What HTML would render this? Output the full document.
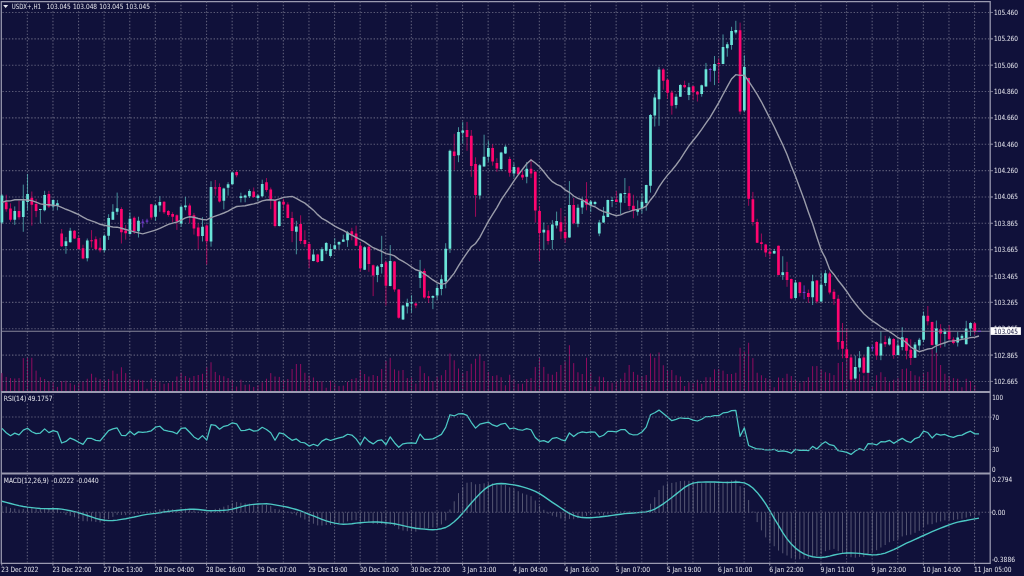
<!DOCTYPE html>
<html><head><meta charset="utf-8"><title>USDX+,H1</title>
<style>
html,body{margin:0;padding:0;background:#10113a;}
body{width:1024px;height:576px;overflow:hidden;}
svg{display:block;}
text{font-family:"DejaVu Sans","Liberation Sans",sans-serif;font-stretch:condensed;font-size:7.2px;fill:#e4e4ec;stroke:none;}
</style></head><body>
<svg width="1024" height="576" viewBox="0 0 1024 576">
<rect x="0" y="0" width="1024" height="576" fill="#10113a"/>
<path d="M1.3 1.5H990.2V563.3H1.3Z" stroke="#9a9ab0" stroke-width="1.25" fill="none"/>
<path d="M1.3 392.1H990.2M1.3 473.6H990.2" stroke="#9a9ab0" stroke-width="2" fill="none"/>
<path d="M990.2 12.47H993M990.2 38.83H993M990.2 65.18H993M990.2 91.54H993M990.2 117.89H993M990.2 144.25H993M990.2 170.61H993M990.2 196.96H993M990.2 223.32H993M990.2 249.67H993M990.2 276.03H993M990.2 302.39H993M990.2 328.74H993M990.2 355.10H993M990.2 381.45H993M990.2 417.20H991.6M990.2 449.60H991.6M990.2 512.30H991.6M1.75 563V565.5M52.95 563V565.5M104.15 563V565.5M155.35 563V565.5M206.55 563V565.5M257.75 563V565.5M308.95 563V565.5M360.15 563V565.5M411.35 563V565.5M462.55 563V565.5M513.75 563V565.5M564.95 563V565.5M616.15 563V565.5M667.35 563V565.5M718.55 563V565.5M769.75 563V565.5M820.95 563V565.5M872.15 563V565.5M923.35 563V565.5M974.55 563V565.5" stroke="#9a9ab0" stroke-width="1" fill="none"/>
<path d="M1.95 373.10V391M6.22 376.90V391M10.48 378.10V391M14.75 378.50V391M19.02 378.10V391M23.28 358.10V391M27.55 357.75V391M31.82 357.75V391M36.08 370.60V391M40.35 377.25V391M44.62 379.00V391M48.88 381.25V391M53.15 381.90V391M57.42 386.90V391M61.68 381.00V391M65.95 380.60V391M70.22 383.10V391M74.48 384.75V391M78.75 382.50V391M83.02 381.00V391M87.28 378.75V391M91.55 373.75V391M95.82 377.50V391M100.08 379.00V391M104.35 380.60V391M108.62 379.00V391M112.88 370.60V391M117.15 373.75V391M121.42 367.25V391M125.68 373.10V391M129.95 378.75V391M134.22 379.75V391M138.48 379.75V391M142.75 380.25V391M147.02 388.75V391M151.28 378.75V391M155.55 381.00V391M159.82 382.25V391M164.08 383.75V391M168.35 383.10V391M172.62 381.25V391M176.88 376.50V391M181.15 372.75V391M185.42 376.00V391M189.68 377.75V391M193.95 376.00V391M198.22 375.00V391M202.48 373.75V391M206.75 366.90V391M211.02 362.25V391M215.28 371.90V391M219.55 375.25V391M223.82 376.25V391M228.09 378.10V391M232.35 379.75V391M236.62 386.50V391M240.89 379.75V391M245.15 384.75V391M249.42 384.40V391M253.69 386.90V391M257.95 385.00V391M262.22 382.25V391M266.49 378.75V391M270.75 373.10V391M275.02 376.50V391M279.29 376.90V391M283.55 380.00V391M287.82 379.00V391M292.09 369.00V391M296.35 364.00V391M300.62 364.00V391M304.89 372.75V391M309.15 375.60V391M313.42 377.50V391M317.69 381.00V391M321.95 381.25V391M326.22 387.75V391M330.49 380.60V391M334.75 383.75V391M339.02 386.00V391M343.29 385.60V391M347.55 381.90V391M351.82 379.00V391M356.09 378.10V391M360.35 370.00V391M364.62 374.00V391M368.89 376.50V391M373.15 375.00V391M377.42 376.00V391M381.69 369.00V391M385.95 361.00V391M390.22 357.75V391M394.49 369.40V391M398.75 370.60V391M403.02 370.00V391M407.29 378.10V391M411.55 377.50V391M415.82 383.50V391M420.09 366.25V391M424.35 373.10V391M428.62 376.25V391M432.89 381.00V391M437.15 376.90V391M441.42 375.25V391M445.69 370.00V391M449.95 353.50V391M454.22 360.25V391M458.49 368.50V391M462.75 372.75V391M467.02 371.00V391M471.29 363.75V391M475.55 358.75V391M479.82 354.00V391M484.09 361.00V391M488.35 371.90V391M492.62 376.00V391M496.89 375.25V391M501.15 377.25V391M505.42 385.25V391M509.69 374.75V391M513.95 379.40V391M518.22 383.75V391M522.49 383.75V391M526.75 379.00V391M531.02 378.10V391M535.29 366.90V391M539.55 357.75V391M543.82 366.90V391M548.09 373.75V391M552.35 374.75V391M556.62 371.90V391M560.89 365.00V391M565.15 361.50V391M569.42 345.25V391M573.69 363.10V391M577.95 372.25V391M582.22 374.00V391M586.49 357.75V391M590.75 372.50V391M595.02 386.50V391M599.29 376.50V391M603.55 377.25V391M607.82 381.50V391M612.09 382.75V391M616.35 381.50V391M620.62 378.75V391M624.89 372.75V391M629.15 365.00V391M633.42 371.90V391M637.69 374.75V391M641.96 376.25V391M646.22 375.00V391M650.49 353.50V391M654.76 357.75V391M659.02 352.50V391M663.29 365.25V391M667.56 370.60V391M671.82 370.00V391M676.09 375.25V391M680.36 376.50V391M684.62 386.00V391M688.89 382.25V391M693.16 383.10V391M697.42 379.75V391M701.69 383.75V391M705.96 377.25V391M710.22 377.25V391M714.49 369.40V391M718.76 369.00V391M723.02 370.60V391M727.29 374.00V391M731.56 374.00V391M735.82 372.75V391M740.09 347.75V391M744.36 351.90V391M748.62 342.75V391M752.89 358.10V391M757.16 372.75V391M761.42 375.25V391M765.69 378.10V391M769.96 379.00V391M774.22 387.25V391M778.49 377.50V391M782.76 378.10V391M787.02 373.75V391M791.29 376.00V391M795.56 379.75V391M799.82 382.75V391M804.09 381.00V391M808.36 377.25V391M812.62 366.25V391M816.89 366.00V391M821.16 369.40V391M825.42 372.25V391M829.69 373.10V391M833.96 375.10V391M838.22 363.00V391M842.49 362.00V391M846.76 360.00V391M851.02 365.00V391M855.29 370.00V391M859.56 374.00V391M863.82 375.50V391M868.09 373.00V391M872.36 386.90V391M876.62 375.25V391M880.89 372.25V391M885.16 376.90V391M889.42 382.25V391M893.69 379.75V391M897.96 378.10V391M902.22 369.00V391M906.49 368.50V391M910.76 371.00V391M915.02 375.25V391M919.29 376.50V391M923.56 372.75V391M927.82 371.90V391M932.09 347.50V391M936.36 352.50V391M940.62 365.00V391M944.89 373.75V391M949.16 376.25V391M953.42 378.10V391M957.69 378.75V391M961.96 387.25V391M966.22 378.75V391M970.49 381.00V391M974.76 385.00V391" stroke="#900c60" stroke-width="1" fill="none"/>
<path d="M27.35 1.65V391M27.35 394V472M27.35 475V563M52.95 1.65V391M52.95 394V472M52.95 475V563M78.55 1.65V391M78.55 394V472M78.55 475V563M104.15 1.65V391M104.15 394V472M104.15 475V563M129.75 1.65V391M129.75 394V472M129.75 475V563M155.35 1.65V391M155.35 394V472M155.35 475V563M180.95 1.65V391M180.95 394V472M180.95 475V563M206.55 1.65V391M206.55 394V472M206.55 475V563M232.15 1.65V391M232.15 394V472M232.15 475V563M257.75 1.65V391M257.75 394V472M257.75 475V563M283.35 1.65V391M283.35 394V472M283.35 475V563M308.95 1.65V391M308.95 394V472M308.95 475V563M334.55 1.65V391M334.55 394V472M334.55 475V563M360.15 1.65V391M360.15 394V472M360.15 475V563M385.75 1.65V391M385.75 394V472M385.75 475V563M411.35 1.65V391M411.35 394V472M411.35 475V563M436.95 1.65V391M436.95 394V472M436.95 475V563M462.55 1.65V391M462.55 394V472M462.55 475V563M488.15 1.65V391M488.15 394V472M488.15 475V563M513.75 1.65V391M513.75 394V472M513.75 475V563M539.35 1.65V391M539.35 394V472M539.35 475V563M564.95 1.65V391M564.95 394V472M564.95 475V563M590.55 1.65V391M590.55 394V472M590.55 475V563M616.15 1.65V391M616.15 394V472M616.15 475V563M641.75 1.65V391M641.75 394V472M641.75 475V563M667.35 1.65V391M667.35 394V472M667.35 475V563M692.95 1.65V391M692.95 394V472M692.95 475V563M718.55 1.65V391M718.55 394V472M718.55 475V563M744.15 1.65V391M744.15 394V472M744.15 475V563M769.75 1.65V391M769.75 394V472M769.75 475V563M795.35 1.65V391M795.35 394V472M795.35 475V563M820.95 1.65V391M820.95 394V472M820.95 475V563M846.55 1.65V391M846.55 394V472M846.55 475V563M872.15 1.65V391M872.15 394V472M872.15 475V563M897.75 1.65V391M897.75 394V472M897.75 475V563M923.35 1.65V391M923.35 394V472M923.35 475V563M948.95 1.65V391M948.95 394V472M948.95 475V563M974.55 1.65V391M974.55 394V472M974.55 475V563M2.4 12.47H993M2.4 38.83H993M2.4 65.18H993M2.4 91.54H993M2.4 117.89H993M2.4 144.25H993M2.4 170.61H993M2.4 196.96H993M2.4 223.32H993M2.4 249.67H993M2.4 276.03H993M2.4 302.39H993M2.4 328.74H993M2.4 355.10H993M2.4 381.45H993" stroke="#5c5c78" stroke-width="1.1" stroke-dasharray="1.4 1.8" fill="none"/>
<path d="M1.95 194.00V224.00M14.75 206.40V224.90M23.28 184.60V231.80M27.55 173.90V210.30M40.35 208.90V223.50M44.62 190.80V211.40M53.15 199.20V210.30M57.42 199.90V210.30M65.95 237.10V253.75M70.22 227.80V242.60M87.28 238.50V261.40M104.35 234.30V252.40M108.62 214.20V239.90M112.88 204.20V220.00M117.15 192.60V214.90M129.95 212.50V234.70M138.48 216.70V237.50M155.55 204.20V220.80M159.82 196.10V211.80M181.15 204.90V226.70M185.42 196.80V210.30M202.48 217.20V241.50M211.02 181.20V246.70M223.82 187.70V209.40M228.09 182.20V195.60M232.35 171.80V184.50M240.89 192.70V202.40M245.15 194.50V202.30M249.42 189.30V198.00M257.95 194.50V200.60M262.22 179.70V197.10M279.29 200.60V226.50M296.35 220.80V254.30M313.42 249.80V261.30M321.95 247.20V261.50M326.22 242.00V254.20M330.49 244.10V257.60M334.75 238.20V249.80M339.02 241.20V249.00M343.29 234.70V242.00M347.55 230.80V246.90M364.62 246.20V270.00M377.42 265.20V282.20M381.69 235.80V273.60M390.22 245.00V286.30M403.02 304.80V320.00M407.29 298.70V313.50M411.55 295.20V312.60M420.09 259.90V288.10M432.89 295.30V309.20M437.15 284.20V300.10M441.42 274.70V295.30M445.69 243.20V288.30M449.95 149.50V252.90M458.49 127.20V162.20M462.75 121.90V143.50M479.82 163.90V199.40M484.09 134.70V166.60M488.35 140.70V161.80M501.15 151.80V170.80M505.42 145.10V154.00M513.95 162.80V177.60M526.75 162.00V183.30M543.82 222.50V249.40M552.35 220.10V249.40M556.62 211.60V228.50M569.42 181.10V237.80M577.95 204.30V227.20M582.22 197.40V214.00M590.75 200.10V212.00M595.02 200.80V205.70M599.29 219.90V236.20M603.55 206.90V222.80M607.82 199.60V217.20M612.09 196.80V207.20M620.62 193.30V214.20M624.89 178.00V203.00M637.69 200.30V215.60M641.96 193.30V213.50M646.22 184.70V210.70M650.49 114.00V192.60M654.76 93.90V126.50M659.02 66.80V125.80M676.09 93.90V108.50M680.36 84.20V96.90M688.89 82.80V100.10M701.69 84.60V96.70M705.96 62.90V86.70M714.49 56.00V85.10M723.02 34.40V64.10M727.29 42.10V56.70M731.56 26.80V49.70M735.82 20.80V34.40M744.36 55.30V112.30M774.22 248.90V253.80M782.76 256.25V279.90M795.56 279.90V299.30M812.62 274.70V305.00M821.16 272.50V302.10M825.42 270.10V286.10M855.29 355.50V379.40M859.56 351.10V371.70M868.09 345.90V373.00M880.89 331.20V360.20M889.42 336.50V345.60M897.96 339.30V355.30M902.22 327.20V350.40M915.02 342.10V358.00M919.29 337.90V350.40M923.56 311.50V342.10M936.36 320.50V352.80M944.89 328.70V346.70M957.69 331.90V346.50M961.96 334.00V338.80M966.22 320.80V344.40M970.49 322.20V336.10" stroke="#6ae4d8" stroke-width="0.8" opacity="0.75" fill="none"/>
<path d="M6.22 194.70V211.70M10.48 203.30V221.70M19.02 200.80V219.70M31.82 191.50V225.60M36.08 198.90V217.20M48.88 190.80V208.20M61.68 229.00V247.00M74.48 230.10V238.90M78.75 235.70V249.60M83.02 244.70V259.30M91.55 230.10V247.50M95.82 236.40V250.00M100.08 237.80V252.40M121.42 207.20V243.50M125.68 225.00V239.60M134.22 216.40V234.00M151.28 203.90V219.70M164.08 201.40V213.90M168.35 210.00V216.70M172.62 212.20V222.20M176.88 214.30V229.90M189.68 203.40V223.30M193.95 212.90V234.60M198.22 223.30V249.30M206.75 224.20V264.50M215.28 180.00V195.60M219.55 183.40V202.50M236.62 171.30V177.30M253.69 187.50V198.00M266.49 178.00V191.90M270.75 187.50V209.20M275.02 199.70V227.40M283.55 198.80V210.10M287.82 202.30V218.20M292.09 211.80V242.20M300.62 215.30V243.90M304.89 230.20V247.20M309.15 242.00V268.00M317.69 253.80V262.80M351.82 227.80V240.30M356.09 225.60V246.00M360.35 242.00V271.50M368.89 245.80V271.80M373.15 264.50V296.10M385.95 260.60V305.60M394.49 261.00V291.80M398.75 289.20V318.70M415.82 303.00V308.20M424.35 268.60V298.75M428.62 290.80V302.90M454.22 133.75V169.90M467.02 121.90V150.80M471.29 130.00V176.80M475.55 157.30V216.80M492.62 144.20V165.70M496.89 158.20V171.80M509.69 156.70V176.70M518.22 166.80V174.50M522.49 170.60V180.00M531.02 158.90V178.00M535.29 171.40V222.70M539.55 206.00V261.10M548.09 225.10V244.60M560.89 208.10V239.00M565.15 216.40V242.50M573.69 198.00V224.40M586.49 182.10V210.30M616.35 191.25V202.20M629.15 186.10V210.00M633.42 194.70V218.30M663.29 68.20V89.70M667.56 78.60V98.75M671.82 90.40V114.70M684.62 80.70V88.30M693.16 85.80V100.10M697.42 91.10V101.50M718.76 58.30V83.00M740.09 22.60V114.50M748.62 77.80V205.80M752.89 191.90V225.70M757.16 218.80V243.00M761.42 233.50V250.00M765.69 243.90V256.90M769.96 248.20V258.70M778.49 245.60V275.30M787.02 261.80V286.80M791.29 278.50V299.30M799.82 281.70V296.50M808.36 289.60V302.80M816.89 279.90V303.50M829.69 271.50V294.40M833.96 289.20V304.80M838.22 294.90V349.70M842.49 323.00V358.30M846.76 328.70V360.20M851.02 354.50V380.30M863.82 355.50V373.60M876.62 341.10V359.90M885.16 335.80V347.00M893.69 337.90V358.75M906.49 337.90V359.40M910.76 339.30V365.00M927.82 306.00V325.40M932.09 321.70V345.60M940.62 324.20V347.80M949.16 325.30V340.30M953.42 337.20V344.40M974.76 322.50V334.70" stroke="#ff056f" stroke-width="0.8" opacity="0.75" fill="none"/>
<path d="M142.75 219.20V227.50M147.02 218.75V222.90M710.22 67.80V81.70M804.09 285.40V299.30M872.36 345.30V351.10" stroke="#7b3fd8" stroke-width="0.8" fill="none"/>
<path d="M0.60 195.50h2.7v27.00h-2.7zM13.40 211.10h2.7v8.60h-2.7zM21.93 200.60h2.7v16.30h-2.7zM26.20 193.90h2.7v8.00h-2.7zM39.00 208.90h2.7v1.10h-2.7zM43.27 195.00h2.7v15.30h-2.7zM51.80 200.00h2.7v6.40h-2.7zM56.07 203.30h2.7v2.50h-2.7zM64.60 241.30h2.7v4.80h-2.7zM68.87 230.80h2.7v11.40h-2.7zM85.93 240.60h2.7v17.70h-2.7zM103.00 235.70h2.7v14.60h-2.7zM107.27 218.10h2.7v17.60h-2.7zM111.53 211.70h2.7v8.00h-2.7zM115.80 208.30h2.7v3.40h-2.7zM128.60 218.75h2.7v15.25h-2.7zM137.13 220.80h2.7v10.45h-2.7zM154.20 205.30h2.7v11.40h-2.7zM158.47 202.10h2.7v3.50h-2.7zM179.80 206.80h2.7v16.70h-2.7zM184.07 205.40h2.7v1.80h-2.7zM201.13 226.80h2.7v9.20h-2.7zM209.67 186.90h2.7v54.60h-2.7zM222.47 188.60h2.7v12.20h-2.7zM226.74 184.30h2.7v3.40h-2.7zM231.00 172.50h2.7v11.80h-2.7zM239.54 196.30h2.7v1.60h-2.7zM243.80 195.40h2.7v2.20h-2.7zM248.07 191.00h2.7v5.20h-2.7zM256.60 195.40h2.7v2.60h-2.7zM260.87 184.10h2.7v12.10h-2.7zM277.94 201.40h2.7v24.60h-2.7zM295.00 226.60h2.7v5.20h-2.7zM312.07 254.50h2.7v6.60h-2.7zM320.60 249.30h2.7v11.80h-2.7zM324.87 242.90h2.7v7.80h-2.7zM329.14 249.00h2.7v6.90h-2.7zM333.40 245.20h2.7v3.80h-2.7zM337.67 242.00h2.7v2.60h-2.7zM341.94 239.40h2.7v2.30h-2.7zM346.20 232.50h2.7v7.80h-2.7zM363.27 247.20h2.7v22.50h-2.7zM376.07 266.60h2.7v8.40h-2.7zM380.34 264.00h2.7v3.00h-2.7zM388.87 261.00h2.7v25.00h-2.7zM401.67 305.60h2.7v13.90h-2.7zM405.94 303.00h2.7v3.50h-2.7zM410.20 302.20h2.7v1.20h-2.7zM418.74 271.40h2.7v6.50h-2.7zM431.54 296.00h2.7v1.80h-2.7zM435.80 288.10h2.7v7.50h-2.7zM440.07 279.30h2.7v9.70h-2.7zM444.34 248.75h2.7v32.65h-2.7zM448.60 150.80h2.7v97.95h-2.7zM457.14 131.90h2.7v23.40h-2.7zM461.40 130.60h2.7v2.20h-2.7zM478.47 165.20h2.7v30.20h-2.7zM482.74 156.80h2.7v9.60h-2.7zM487.00 148.00h2.7v8.70h-2.7zM499.80 152.40h2.7v16.60h-2.7zM504.07 146.80h2.7v6.70h-2.7zM512.60 167.00h2.7v6.40h-2.7zM525.40 168.80h2.7v7.90h-2.7zM542.47 229.80h2.7v2.70h-2.7zM551.00 224.40h2.7v15.60h-2.7zM555.27 221.00h2.7v4.60h-2.7zM568.07 205.00h2.7v32.60h-2.7zM576.60 207.80h2.7v15.95h-2.7zM580.87 200.60h2.7v6.90h-2.7zM589.40 201.50h2.7v3.20h-2.7zM593.67 201.90h2.7v2.00h-2.7zM597.94 222.40h2.7v11.10h-2.7zM602.20 215.80h2.7v6.70h-2.7zM606.47 200.00h2.7v16.90h-2.7zM610.74 200.00h2.7v1.00h-2.7zM619.27 193.60h2.7v8.80h-2.7zM623.54 193.00h2.7v1.00h-2.7zM636.34 209.30h2.7v2.40h-2.7zM640.61 201.70h2.7v6.20h-2.7zM644.87 185.00h2.7v18.00h-2.7zM649.14 115.00h2.7v70.70h-2.7zM653.41 97.40h2.7v18.00h-2.7zM657.67 69.60h2.7v29.60h-2.7zM674.74 96.70h2.7v8.30h-2.7zM679.01 84.90h2.7v11.80h-2.7zM687.54 87.20h2.7v7.80h-2.7zM700.34 85.20h2.7v8.70h-2.7zM704.61 69.20h2.7v17.30h-2.7zM713.14 63.90h2.7v6.90h-2.7zM721.67 46.90h2.7v17.00h-2.7zM725.94 44.20h2.7v4.10h-2.7zM730.21 31.00h2.7v13.90h-2.7zM734.47 30.00h2.7v2.40h-2.7zM743.01 67.10h2.7v43.50h-2.7zM772.87 251.10h2.7v2.40h-2.7zM781.41 272.20h2.7v2.80h-2.7zM794.21 282.60h2.7v15.30h-2.7zM811.27 281.25h2.7v15.95h-2.7zM819.81 284.70h2.7v16.70h-2.7zM824.07 273.30h2.7v9.80h-2.7zM853.94 366.90h2.7v11.50h-2.7zM858.21 358.30h2.7v9.20h-2.7zM866.74 346.90h2.7v25.80h-2.7zM879.54 343.40h2.7v12.10h-2.7zM888.07 338.60h2.7v5.80h-2.7zM896.61 345.60h2.7v9.40h-2.7zM900.87 337.20h2.7v9.70h-2.7zM913.67 344.40h2.7v13.40h-2.7zM917.94 339.70h2.7v5.90h-2.7zM922.21 315.70h2.7v24.00h-2.7zM935.01 328.50h2.7v16.30h-2.7zM943.54 331.30h2.7v2.80h-2.7zM956.34 337.50h2.7v4.90h-2.7zM960.61 335.80h2.7v2.80h-2.7zM964.87 328.50h2.7v15.70h-2.7zM969.14 322.90h2.7v5.60h-2.7z" fill="#6ae4d8"/>
<path d="M4.87 202.20h2.7v7.00h-2.7zM9.13 208.60h2.7v11.10h-2.7zM17.67 211.10h2.7v6.10h-2.7zM30.47 197.80h2.7v6.90h-2.7zM34.73 204.00h2.7v7.00h-2.7zM47.53 193.90h2.7v12.50h-2.7zM60.33 233.40h2.7v12.80h-2.7zM73.13 230.80h2.7v7.70h-2.7zM77.40 238.00h2.7v10.90h-2.7zM81.67 248.20h2.7v10.40h-2.7zM90.20 240.30h2.7v1.00h-2.7zM94.47 239.20h2.7v9.70h-2.7zM98.73 247.80h2.7v2.50h-2.7zM120.07 208.90h2.7v23.40h-2.7zM124.33 230.60h2.7v2.70h-2.7zM132.87 217.80h2.7v13.45h-2.7zM149.93 204.20h2.7v13.20h-2.7zM162.73 201.80h2.7v10.40h-2.7zM167.00 211.10h2.7v3.90h-2.7zM171.27 213.90h2.7v2.80h-2.7zM175.53 215.30h2.7v6.20h-2.7zM188.33 205.40h2.7v10.10h-2.7zM192.60 215.20h2.7v13.30h-2.7zM196.87 227.60h2.7v8.70h-2.7zM205.40 225.60h2.7v15.60h-2.7zM213.94 187.40h2.7v1.20h-2.7zM218.20 186.90h2.7v14.70h-2.7zM235.27 172.10h2.7v3.20h-2.7zM252.34 191.40h2.7v5.70h-2.7zM265.14 182.30h2.7v7.80h-2.7zM269.40 189.60h2.7v9.70h-2.7zM273.67 200.60h2.7v25.40h-2.7zM282.20 201.80h2.7v2.70h-2.7zM286.47 204.50h2.7v13.40h-2.7zM290.74 217.90h2.7v13.00h-2.7zM299.27 224.00h2.7v17.00h-2.7zM303.54 240.00h2.7v4.10h-2.7zM307.80 244.10h2.7v15.30h-2.7zM316.34 254.50h2.7v7.50h-2.7zM350.47 231.30h2.7v3.40h-2.7zM354.74 233.40h2.7v12.40h-2.7zM359.00 245.80h2.7v22.40h-2.7zM367.54 246.70h2.7v17.30h-2.7zM371.80 265.20h2.7v10.40h-2.7zM384.60 262.30h2.7v23.40h-2.7zM393.14 261.40h2.7v28.10h-2.7zM397.40 289.50h2.7v28.30h-2.7zM414.47 303.40h2.7v2.20h-2.7zM423.00 271.00h2.7v26.40h-2.7zM427.27 296.00h2.7v2.00h-2.7zM452.87 151.40h2.7v4.60h-2.7zM465.67 130.00h2.7v6.90h-2.7zM469.94 135.80h2.7v30.30h-2.7zM474.20 164.00h2.7v31.10h-2.7zM491.27 148.00h2.7v13.60h-2.7zM495.54 162.90h2.7v5.50h-2.7zM508.34 158.90h2.7v13.90h-2.7zM516.87 167.40h2.7v6.80h-2.7zM521.14 174.70h2.7v2.70h-2.7zM529.67 168.80h2.7v4.70h-2.7zM533.94 171.80h2.7v38.60h-2.7zM538.20 211.00h2.7v22.00h-2.7zM546.74 230.20h2.7v10.90h-2.7zM559.54 222.20h2.7v9.20h-2.7zM563.80 232.10h2.7v6.20h-2.7zM572.34 205.00h2.7v18.30h-2.7zM585.14 199.20h2.7v5.50h-2.7zM615.00 199.60h2.7v2.30h-2.7zM627.80 193.30h2.7v12.80h-2.7zM632.07 205.80h2.7v4.90h-2.7zM661.94 69.60h2.7v11.10h-2.7zM666.21 79.70h2.7v13.10h-2.7zM670.47 92.50h2.7v13.20h-2.7zM683.27 84.90h2.7v2.30h-2.7zM691.81 86.25h2.7v5.95h-2.7zM696.07 91.80h2.7v2.80h-2.7zM717.41 62.90h2.7v1.00h-2.7zM738.74 30.30h2.7v81.10h-2.7zM747.27 78.10h2.7v120.70h-2.7zM751.54 199.30h2.7v22.60h-2.7zM755.81 221.90h2.7v20.80h-2.7zM760.07 242.20h2.7v1.70h-2.7zM764.34 244.40h2.7v8.20h-2.7zM768.61 251.70h2.7v2.10h-2.7zM777.14 245.80h2.7v29.20h-2.7zM785.67 271.90h2.7v8.00h-2.7zM789.94 278.90h2.7v19.70h-2.7zM798.47 282.20h2.7v10.90h-2.7zM807.01 293.10h2.7v3.80h-2.7zM815.54 280.60h2.7v20.80h-2.7zM828.34 273.60h2.7v19.00h-2.7zM832.61 291.80h2.7v7.30h-2.7zM836.87 298.70h2.7v43.40h-2.7zM841.14 341.10h2.7v7.70h-2.7zM845.41 349.20h2.7v8.75h-2.7zM849.67 357.40h2.7v22.00h-2.7zM862.47 357.40h2.7v15.30h-2.7zM875.27 342.10h2.7v13.40h-2.7zM883.81 342.10h2.7v2.10h-2.7zM892.34 338.90h2.7v16.10h-2.7zM905.14 338.30h2.7v12.50h-2.7zM909.41 349.70h2.7v8.30h-2.7zM926.47 315.70h2.7v5.55h-2.7zM930.74 321.90h2.7v23.10h-2.7zM939.27 329.20h2.7v4.40h-2.7zM947.81 330.80h2.7v8.40h-2.7zM952.07 339.60h2.7v3.40h-2.7zM973.41 323.30h2.7v7.95h-2.7z" fill="#ff056f"/>
<path d="M141.40 222.20H144.10M145.67 221.10H148.37M708.87 69.50H711.57M802.74 292.40H805.44M871.01 347.80H873.71" stroke="#7b3fd8" stroke-width="1" fill="none"/>
<polyline points="1.95,202.42 6.22,201.01 10.48,200.84 14.75,199.70 19.02,199.70 23.28,199.77 27.55,200.02 31.82,200.66 36.08,202.18 40.35,203.91 44.62,204.49 48.88,204.77 53.15,205.25 57.42,205.57 61.68,207.48 65.95,209.28 70.22,210.87 74.48,212.75 78.75,214.72 83.02,217.04 87.28,219.30 91.55,220.89 95.82,222.34 100.08,224.30 104.35,225.23 108.62,226.11 112.88,227.00 117.15,227.18 121.42,228.24 125.68,229.46 129.95,230.65 134.22,231.89 138.48,232.93 142.75,233.88 147.02,232.62 151.28,231.43 155.55,230.15 159.82,228.33 164.08,226.49 168.35,224.31 172.62,223.12 176.88,222.14 181.15,220.04 185.42,217.79 189.68,216.78 193.95,217.31 198.22,218.53 202.48,219.46 206.75,219.90 211.02,217.58 215.28,216.08 219.55,214.60 223.82,212.98 228.09,211.09 232.35,208.66 236.62,206.55 240.89,206.11 245.15,205.77 249.42,204.71 253.69,203.81 257.95,202.75 262.22,200.88 266.49,200.04 270.75,199.74 275.02,200.27 279.29,198.91 283.55,197.32 287.82,196.88 292.09,196.36 296.35,198.34 300.62,200.97 304.89,203.09 309.15,206.63 313.42,210.14 317.69,214.62 321.95,218.31 326.22,220.64 330.49,223.32 334.75,226.03 339.02,228.28 343.29,230.48 347.55,232.90 351.82,235.13 356.09,237.46 360.35,239.56 364.62,241.85 368.89,244.83 373.15,247.72 377.42,249.50 381.69,251.37 385.95,253.61 390.22,254.45 394.49,255.95 398.75,259.12 403.02,261.30 407.29,263.99 411.55,266.95 415.82,269.78 420.09,271.09 424.35,273.86 428.62,276.79 432.89,279.96 437.15,282.63 441.42,284.31 445.69,283.34 449.95,278.52 454.22,273.12 458.49,265.93 462.75,259.13 467.02,252.78 471.29,246.80 475.55,243.50 479.82,237.29 484.09,229.24 488.35,221.36 492.62,214.29 496.89,207.60 501.15,199.94 505.42,193.71 509.69,187.48 513.95,180.93 518.22,174.84 522.49,169.30 526.75,163.78 531.02,160.01 535.29,163.00 539.55,166.84 543.82,171.74 548.09,177.27 552.35,181.64 556.62,184.39 560.89,186.20 565.15,189.86 569.42,192.27 573.69,196.03 577.95,198.34 582.22,199.95 586.49,202.57 590.75,205.30 595.02,206.76 599.29,209.53 603.55,211.61 607.82,212.74 612.09,214.29 616.35,215.71 620.62,214.88 624.89,212.88 629.15,211.69 633.42,210.17 637.69,209.41 641.96,208.45 646.22,206.13 650.49,199.97 654.76,194.59 659.02,186.90 663.29,180.54 667.56,175.16 671.82,170.20 676.09,164.96 680.36,159.12 684.62,152.35 688.89,145.92 693.16,140.53 697.42,135.26 701.69,129.43 705.96,123.21 710.22,117.03 714.49,109.92 718.76,102.59 723.02,94.47 727.29,86.59 731.56,78.89 735.82,74.64 740.09,75.34 744.36,75.22 748.62,81.12 752.89,87.58 757.16,94.42 761.42,101.79 765.69,110.17 769.96,118.50 774.22,126.70 778.49,135.83 782.76,144.71 787.02,154.45 791.29,165.92 795.56,176.57 799.82,188.03 804.09,199.46 808.36,211.96 812.62,223.81 816.89,237.33 821.16,250.07 825.42,258.16 829.69,269.44 833.96,274.45 838.22,280.46 842.49,285.77 846.76,291.47 851.02,297.81 855.29,303.46 859.56,308.82 863.82,313.71 868.09,317.44 872.36,320.84 876.62,323.69 880.89,326.73 885.16,329.28 889.42,331.59 893.69,334.50 897.96,337.71 902.22,339.50 906.49,342.81 910.76,347.04 915.02,349.63 919.29,351.66 923.56,350.34 927.82,348.96 932.09,348.32 936.36,345.77 940.62,344.11 944.89,342.76 949.16,341.08 953.42,340.89 957.69,340.37 961.96,339.39 966.22,338.64 970.49,337.58 974.76,337.21 979.02,336.02" stroke="#9a9caa" stroke-width="1.4" fill="none"/>
<path d="M2 331.25H990.2" stroke="#8c8c9e" stroke-width="0.95" fill="none"/>
<path d="M977.6 331.25H981" stroke="#7b3fd8" stroke-width="1" fill="none"/>
<polyline points="1.95,428.38 6.22,432.71 10.48,435.72 14.75,433.11 19.02,434.91 23.28,430.07 27.55,428.29 31.82,431.76 36.08,433.68 40.35,433.02 44.62,428.86 48.88,432.61 53.15,430.69 57.42,431.81 61.68,443.02 65.95,441.42 70.22,438.09 74.48,439.92 78.75,442.27 83.02,444.33 87.28,438.38 91.55,438.48 95.82,440.43 100.08,440.78 104.35,435.74 108.62,430.58 112.88,428.88 117.15,427.97 121.42,435.30 125.68,435.57 129.95,431.27 134.22,434.88 138.48,431.88 142.75,432.31 147.02,431.97 151.28,430.80 155.55,427.16 159.82,426.25 164.08,430.17 168.35,431.22 172.62,431.88 176.88,433.76 181.15,428.46 185.42,427.99 189.68,432.22 193.95,436.93 198.22,439.45 202.48,435.61 206.75,440.13 211.02,424.73 215.28,425.26 219.55,429.23 223.82,426.27 228.09,425.33 232.35,422.83 236.62,423.81 240.89,430.52 245.15,430.29 249.42,429.10 253.69,431.11 257.95,430.60 262.22,427.31 266.49,429.51 270.75,432.71 275.02,440.30 279.29,432.93 283.55,433.77 287.82,437.27 292.09,440.33 296.35,438.95 300.62,442.25 304.89,442.93 309.15,446.09 313.42,444.27 317.69,445.84 321.95,441.14 326.22,438.92 330.49,440.49 334.75,439.09 339.02,437.89 343.29,436.89 347.55,434.26 351.82,435.05 356.09,438.86 360.35,445.00 364.62,437.12 368.89,441.34 373.15,443.90 377.42,440.73 381.69,439.83 385.95,444.76 390.22,436.90 394.49,442.73 398.75,447.23 403.02,443.80 407.29,443.07 411.55,442.83 415.82,443.49 420.09,434.06 424.35,439.31 428.62,439.42 432.89,438.88 437.15,436.71 441.42,434.36 445.69,427.42 449.95,414.74 454.22,415.95 458.49,413.79 462.75,413.68 467.02,415.31 471.29,422.29 475.55,428.13 479.82,424.17 484.09,423.14 488.35,422.05 492.62,424.95 496.89,426.38 501.15,424.05 505.42,423.26 509.69,428.94 513.95,427.99 518.22,429.54 522.49,430.25 526.75,428.59 531.02,429.74 535.29,437.53 539.55,441.32 543.82,440.56 548.09,442.43 552.35,438.34 556.62,437.53 560.89,439.53 565.15,440.83 569.42,432.91 573.69,436.54 577.95,433.26 582.22,431.79 586.49,432.70 590.75,431.99 595.02,432.09 599.29,436.97 603.55,435.24 607.82,431.35 612.09,431.35 616.35,431.89 620.62,429.70 624.89,429.54 629.15,433.63 633.42,434.99 637.69,434.53 641.96,432.01 646.22,427.10 650.49,414.70 654.76,412.74 659.02,410.10 663.29,413.50 667.56,417.07 671.82,420.67 676.09,419.39 680.36,417.78 684.62,418.48 688.89,418.48 693.16,420.17 697.42,421.01 701.69,419.26 705.96,416.56 710.22,416.68 714.49,415.73 718.76,415.73 723.02,412.91 727.29,412.49 731.56,410.56 735.82,410.42 740.09,436.32 744.36,427.88 748.62,445.45 752.89,447.36 757.16,448.99 761.42,449.08 765.69,449.79 769.96,449.90 774.22,449.31 778.49,451.49 782.76,450.84 787.02,451.57 791.29,453.28 795.56,449.28 799.82,450.37 804.09,450.19 808.36,450.70 812.62,446.36 816.89,448.94 821.16,444.59 825.42,441.79 829.69,444.66 833.96,445.57 838.22,450.75 842.49,451.43 846.76,452.37 851.02,454.43 855.29,450.93 859.56,448.58 863.82,450.29 868.09,443.63 872.36,443.76 876.62,444.91 880.89,441.73 885.16,441.87 889.42,440.32 893.69,443.35 897.96,440.67 902.22,438.34 906.49,441.11 910.76,442.50 915.02,438.53 919.29,437.21 923.56,431.13 927.82,432.53 932.09,437.97 936.36,433.91 940.62,435.07 944.89,434.48 949.16,436.40 953.42,437.32 957.69,435.67 961.96,435.15 966.22,432.88 970.49,431.18 974.76,433.89 979.02,433.89" stroke="#4cc8c4" stroke-width="1.25" fill="none" stroke-linejoin="round"/>
<path d="M1.95 512.40V505.96M6.22 512.40V506.65M10.48 512.40V508.08M14.75 512.40V508.58M19.02 512.40V509.49M23.28 512.40V508.93M27.55 512.40V508.00M31.82 512.40V508.17M36.08 512.40V508.85M40.35 512.40V509.26M44.62 512.40V508.52M48.88 512.40V508.88M53.15 512.40V508.70M57.42 512.40V508.86M61.68 512.40V512.42M65.95 512.40V514.83M70.22 512.40V515.85M74.48 512.40V517.22M78.75 512.40V519.06M83.02 512.40V521.20M87.28 512.40V521.34M91.55 512.40V521.39M95.82 512.40V521.95M100.08 512.40V522.39M104.35 512.40V521.46M108.62 512.40V519.24M112.88 512.40V516.92M117.15 512.40V514.78M121.42 512.40V514.97M125.68 512.40V515.18M129.95 512.40V514.15M134.22 512.40V514.32M138.48 512.40V513.60M142.75 512.40V513.13M147.02 512.40V512.67M151.28 512.40V512.02M155.55 512.40V510.55M159.82 512.40V509.17M164.08 512.40V508.92M168.35 512.40V508.99M172.62 512.40V509.22M176.88 512.40V509.81M181.15 512.40V509.14M185.42 512.40V508.55M189.68 512.40V508.92M193.95 512.40V510.28M198.22 512.40V511.99M202.48 512.40V512.58M206.75 512.40V514.18M211.02 512.40V511.12M215.28 512.40V508.87M219.55 512.40V508.18M223.82 512.40V506.65M228.09 512.40V505.18M232.35 512.40V503.18M236.62 512.40V501.94M240.89 512.40V502.75M245.15 512.40V503.42M249.42 512.40V503.70M253.69 512.40V504.50M257.95 512.40V505.08M262.22 512.40V504.73M266.49 512.40V505.02M270.75 512.40V506.05M275.02 512.40V509.05M279.29 512.40V509.49M283.55 512.40V510.11M287.82 512.40V511.68M292.09 512.40V513.95M296.35 512.40V515.37M300.62 512.40V517.59M304.89 512.40V519.51M309.15 512.40V522.15M313.42 512.40V523.72M317.69 512.40V525.41M321.95 512.40V525.58M326.22 512.40V525.06M330.49 512.40V524.99M334.75 512.40V524.49M339.02 512.40V523.71M343.29 512.40V522.76M347.55 512.40V521.36M351.82 512.40V520.33M356.09 512.40V520.31M360.35 512.40V521.97M364.62 512.40V521.51M368.89 512.40V522.37M373.15 512.40V523.85M377.42 512.40V524.17M381.69 512.40V524.07M385.95 512.40V525.58M390.22 512.40V524.66M394.49 512.40V526.06M398.75 512.40V529.23M403.02 512.40V530.56M407.29 512.40V531.19M411.55 512.40V531.41M415.82 512.40V531.63M420.09 512.40V528.88M424.35 512.40V528.59M428.62 512.40V528.23M432.89 512.40V527.61M437.15 512.40V526.32M441.42 512.40V524.46M445.69 512.40V520.45M449.95 512.40V509.47M454.22 512.40V501.31M458.49 512.40V493.14M462.75 512.40V486.85M467.02 512.40V482.71M471.29 512.40V482.12M475.55 512.40V484.30M479.82 512.40V483.96M484.09 512.40V483.35M488.35 512.40V482.51M492.62 512.40V483.27M496.89 512.40V484.73M501.15 512.40V484.93M505.42 512.40V484.95M509.69 512.40V487.34M513.95 512.40V489.04M518.22 512.40V491.20M522.49 512.40V493.39M526.75 512.40V494.65M531.02 512.40V496.20M535.29 512.40V500.52M539.55 512.40V505.83M543.82 512.40V509.82M548.09 512.40V513.86M552.35 512.40V515.69M556.62 512.40V516.81M560.89 512.40V518.47M565.15 512.40V520.24M569.42 512.40V518.91M573.69 512.40V519.24M577.95 512.40V518.19M582.22 512.40V516.74M586.49 512.40V515.87M590.75 512.40V514.90M595.02 512.40V514.14M599.29 512.40V515.15M603.55 512.40V515.39M607.82 512.40V514.29M612.09 512.40V513.41M616.35 512.40V512.85M620.62 512.40V511.76M624.89 512.40V510.86M629.15 512.40V511.21M633.42 512.40V511.86M637.69 512.40V512.27M641.96 512.40V511.99M646.22 512.40V510.45M650.49 512.40V503.73M654.76 512.40V497.18M659.02 512.40V490.02M663.29 512.40V485.54M667.56 512.40V483.29M671.82 512.40V482.88M676.09 512.40V482.19M680.36 512.40V481.06M684.62 512.40V480.71M688.89 512.40V480.80M693.16 512.40V481.62M697.42 512.40V482.81M701.69 512.40V483.33M705.96 512.40V482.81M710.22 512.40V482.76M714.49 512.40V482.61M718.76 512.40V482.84M723.02 512.40V482.01M727.29 512.40V481.49M731.56 512.40V480.39M735.82 512.40V479.82M740.09 512.40V486.18M744.36 512.40V487.96M748.62 512.40V500.04M752.89 512.40V511.48M757.16 512.40V522.10M761.42 512.40V530.40M765.69 512.40V537.39M769.96 512.40V542.67M774.22 512.40V546.26M778.49 512.40V550.57M782.76 512.40V553.29M787.02 512.40V555.56M791.29 512.40V558.33M795.56 512.40V558.71M799.82 512.40V559.31M804.09 512.40V559.20M808.36 512.40V558.92M812.62 512.40V556.94M816.89 512.40V556.48M821.16 512.40V554.29M825.42 512.40V551.20M829.69 512.40V549.86M833.96 512.40V548.90M838.22 512.40V551.13M842.49 512.40V552.97M846.76 512.40V554.67M851.02 512.40V557.21M855.29 512.40V557.71M859.56 512.40V556.90M863.82 512.40V556.90M868.09 512.40V554.35M872.36 512.40V551.95M876.62 512.40V550.22M880.89 512.40V547.48M885.16 512.40V545.00M889.42 512.40V542.24M893.69 512.40V541.04M897.96 512.40V539.02M902.22 512.40V536.48M906.49 512.40V535.28M910.76 512.40V534.66M915.02 512.40V532.84M919.29 512.40V530.81M923.56 512.40V527.11M927.82 512.40V524.48M932.09 512.40V524.16M936.36 512.40V522.48M940.62 512.40V521.44M944.89 512.40V520.35M949.16 512.40V520.03M953.42 512.40V519.99M957.69 512.40V519.43M961.96 512.40V518.79M966.22 512.40V517.63M970.49 512.40V516.22M974.76 512.40V515.73M979.02 512.40V515.31" stroke="#6c6e86" stroke-width="0.75" fill="none"/>
<polyline points="1.95,501.28 6.22,502.39 10.48,503.54 14.75,504.61 19.02,505.65 23.28,506.50 27.55,507.12 31.82,507.63 36.08,508.08 40.35,508.45 44.62,508.65 48.88,508.74 53.15,508.76 57.42,508.69 61.68,509.08 65.95,509.83 70.22,510.69 74.48,511.62 78.75,512.71 83.02,514.11 87.28,515.50 91.55,516.91 95.82,518.36 100.08,519.47 104.35,520.21 108.62,520.58 112.88,520.55 117.15,520.08 121.42,519.38 125.68,518.70 129.95,517.89 134.22,517.05 138.48,516.07 142.75,515.14 147.02,514.41 151.28,513.87 155.55,513.40 159.82,512.75 164.08,512.06 168.35,511.49 172.62,510.92 176.88,510.50 181.15,510.06 185.42,509.60 189.68,509.25 193.95,509.22 198.22,509.54 202.48,509.94 206.75,510.52 211.02,510.73 215.28,510.63 219.55,510.52 223.82,510.31 228.09,509.89 232.35,509.10 236.62,507.99 240.89,506.90 245.15,505.70 249.42,504.88 253.69,504.39 257.95,504.05 262.22,503.83 266.49,503.81 270.75,504.13 275.02,504.92 279.29,505.67 283.55,506.41 287.82,507.30 292.09,508.35 296.35,509.49 300.62,510.92 304.89,512.53 309.15,514.32 313.42,515.95 317.69,517.72 321.95,519.44 326.22,520.93 330.49,522.15 334.75,523.17 339.02,523.85 343.29,524.21 347.55,524.12 351.82,523.74 356.09,523.17 360.35,522.77 364.62,522.38 368.89,522.09 373.15,522.02 377.42,522.07 381.69,522.21 385.95,522.68 390.22,523.17 394.49,523.81 398.75,524.61 403.02,525.62 407.29,526.60 411.55,527.44 415.82,528.27 420.09,528.80 424.35,529.14 428.62,529.53 432.89,529.70 437.15,529.38 441.42,528.70 445.69,527.51 449.95,525.07 454.22,521.70 458.49,517.73 462.75,513.09 467.02,508.04 471.29,502.98 475.55,498.31 479.82,493.81 484.09,489.69 488.35,486.69 492.62,484.69 496.89,483.75 501.15,483.54 505.42,483.79 509.69,484.37 513.95,484.89 518.22,485.70 522.49,486.82 526.75,488.16 531.02,489.60 535.29,491.36 539.55,493.68 543.82,496.44 548.09,499.39 552.35,502.35 556.62,505.20 560.89,507.98 565.15,510.83 569.42,513.35 573.69,515.43 577.95,516.80 582.22,517.57 586.49,517.80 590.75,517.71 595.02,517.41 599.29,517.04 603.55,516.50 607.82,515.99 612.09,515.34 616.35,514.75 620.62,514.20 624.89,513.64 629.15,513.23 633.42,512.98 637.69,512.66 641.96,512.28 646.22,511.85 650.49,510.78 654.76,509.04 659.02,506.62 663.29,503.81 667.56,500.70 671.82,497.48 676.09,494.14 680.36,490.70 684.62,487.40 688.89,484.85 693.16,483.12 697.42,482.32 701.69,482.08 705.96,482.02 710.22,482.01 714.49,482.05 718.76,482.25 723.02,482.40 727.29,482.47 731.56,482.34 735.82,482.01 740.09,482.32 744.36,482.90 748.62,484.82 752.89,488.02 757.16,492.39 761.42,497.76 765.69,503.97 769.96,510.89 774.22,518.28 778.49,525.43 782.76,532.69 787.02,538.86 791.29,544.06 795.56,548.13 799.82,551.34 804.09,553.77 808.36,555.57 812.62,556.76 816.89,557.42 821.16,557.53 825.42,557.04 829.69,556.10 833.96,555.01 838.22,554.10 842.49,553.41 846.76,552.94 851.02,552.97 855.29,553.10 859.56,553.39 863.82,554.03 868.09,554.53 872.36,554.87 876.62,554.76 880.89,554.16 885.16,553.08 889.42,551.42 893.69,549.57 897.96,547.58 902.22,545.31 906.49,543.19 910.76,541.27 915.02,539.34 919.29,537.49 923.56,535.50 927.82,533.52 932.09,531.65 936.36,529.81 940.62,528.14 944.89,526.48 949.16,524.86 953.42,523.43 957.69,522.16 961.96,521.24 966.22,520.48 970.49,519.59 974.76,518.84 979.02,518.16" stroke="#4cc8c4" stroke-width="1.4" fill="none" stroke-linejoin="round"/>
<path d="M2.4 417.00H991.6M2.4 449.50H991.6M2.4 512.30H991.6" stroke="#5c5c78" stroke-width="1.1" stroke-dasharray="1.4 1.8" fill="none"/>
<text x="994.00" y="14.97" textLength="24.00" lengthAdjust="spacingAndGlyphs">105.460</text>
<text x="994.00" y="41.33" textLength="24.00" lengthAdjust="spacingAndGlyphs">105.260</text>
<text x="994.00" y="67.68" textLength="24.00" lengthAdjust="spacingAndGlyphs">105.060</text>
<text x="994.00" y="94.04" textLength="24.00" lengthAdjust="spacingAndGlyphs">104.860</text>
<text x="994.00" y="120.39" textLength="24.00" lengthAdjust="spacingAndGlyphs">104.660</text>
<text x="994.00" y="146.75" textLength="24.00" lengthAdjust="spacingAndGlyphs">104.460</text>
<text x="994.00" y="173.11" textLength="24.00" lengthAdjust="spacingAndGlyphs">104.260</text>
<text x="994.00" y="199.46" textLength="24.00" lengthAdjust="spacingAndGlyphs">104.065</text>
<text x="994.00" y="225.82" textLength="24.00" lengthAdjust="spacingAndGlyphs">103.865</text>
<text x="994.00" y="252.17" textLength="24.00" lengthAdjust="spacingAndGlyphs">103.665</text>
<text x="994.00" y="278.53" textLength="24.00" lengthAdjust="spacingAndGlyphs">103.465</text>
<text x="994.00" y="304.89" textLength="24.00" lengthAdjust="spacingAndGlyphs">103.265</text>
<text x="994.00" y="331.24" textLength="24.00" lengthAdjust="spacingAndGlyphs">103.065</text>
<text x="994.00" y="357.60" textLength="24.00" lengthAdjust="spacingAndGlyphs">102.865</text>
<text x="994.00" y="383.95" textLength="24.00" lengthAdjust="spacingAndGlyphs">102.665</text>
<rect x="990.6" y="327.2" width="30.3" height="7.7" fill="#ffffff"/>
<text x="994.00" y="333.75" textLength="24.00" lengthAdjust="spacingAndGlyphs" style="fill:#10113a">103.045</text>
<text x="992.30" y="400.20" textLength="10.70" lengthAdjust="spacingAndGlyphs">100</text>
<text x="991.90" y="420.20" textLength="7.00" lengthAdjust="spacingAndGlyphs">70</text>
<text x="991.90" y="452.15" textLength="7.00" lengthAdjust="spacingAndGlyphs">30</text>
<text x="991.90" y="471.90" textLength="3.60" lengthAdjust="spacingAndGlyphs">0</text>
<text x="992.00" y="481.80" textLength="20.20" lengthAdjust="spacingAndGlyphs">0.2794</text>
<text x="991.90" y="514.80" textLength="13.40" lengthAdjust="spacingAndGlyphs">0.00</text>
<text x="991.90" y="561.70" textLength="23.10" lengthAdjust="spacingAndGlyphs">-0.3886</text>
<text x="1.20" y="571.90" textLength="37.36" lengthAdjust="spacingAndGlyphs">23 Dec 2022</text>
<text x="52.40" y="571.90" textLength="39.19" lengthAdjust="spacingAndGlyphs">23 Dec 22:00</text>
<text x="103.60" y="571.90" textLength="39.19" lengthAdjust="spacingAndGlyphs">27 Dec 13:00</text>
<text x="154.80" y="571.90" textLength="39.19" lengthAdjust="spacingAndGlyphs">28 Dec 04:00</text>
<text x="206.00" y="571.90" textLength="39.19" lengthAdjust="spacingAndGlyphs">28 Dec 16:00</text>
<text x="257.20" y="571.90" textLength="39.19" lengthAdjust="spacingAndGlyphs">29 Dec 07:00</text>
<text x="308.40" y="571.90" textLength="39.19" lengthAdjust="spacingAndGlyphs">29 Dec 19:00</text>
<text x="359.60" y="571.90" textLength="39.19" lengthAdjust="spacingAndGlyphs">30 Dec 10:00</text>
<text x="410.80" y="571.90" textLength="39.19" lengthAdjust="spacingAndGlyphs">30 Dec 22:00</text>
<text x="462.00" y="571.90" textLength="34.43" lengthAdjust="spacingAndGlyphs">3 Jan 13:00</text>
<text x="513.20" y="571.90" textLength="34.43" lengthAdjust="spacingAndGlyphs">4 Jan 04:00</text>
<text x="564.40" y="571.90" textLength="34.43" lengthAdjust="spacingAndGlyphs">4 Jan 16:00</text>
<text x="615.60" y="571.90" textLength="34.43" lengthAdjust="spacingAndGlyphs">5 Jan 07:00</text>
<text x="666.80" y="571.90" textLength="34.43" lengthAdjust="spacingAndGlyphs">5 Jan 19:00</text>
<text x="718.00" y="571.90" textLength="34.43" lengthAdjust="spacingAndGlyphs">6 Jan 10:00</text>
<text x="769.20" y="571.90" textLength="34.43" lengthAdjust="spacingAndGlyphs">6 Jan 22:00</text>
<text x="820.40" y="571.90" textLength="33.94" lengthAdjust="spacingAndGlyphs">9 Jan 11:00</text>
<text x="871.60" y="571.90" textLength="34.43" lengthAdjust="spacingAndGlyphs">9 Jan 23:00</text>
<text x="922.80" y="571.90" textLength="38.10" lengthAdjust="spacingAndGlyphs">10 Jan 14:00</text>
<text x="974.00" y="571.90" textLength="37.61" lengthAdjust="spacingAndGlyphs">11 Jan 05:00</text>
<rect x="10.8" y="3" width="31.2" height="7.8" fill="#10113a"/>
<rect x="45.6" y="3" width="105.4" height="7.8" fill="#10113a"/>
<rect x="3" y="394.6" width="23.8" height="8" fill="#10113a"/>
<rect x="27.5" y="394.6" width="25.6" height="8" fill="#10113a"/>
<rect x="3" y="476" width="46.4" height="8" fill="#10113a"/>
<rect x="50.8" y="476" width="48.4" height="8" fill="#10113a"/>
<text x="11.70" y="9.20" textLength="29.30" lengthAdjust="spacingAndGlyphs">USDX+,H1</text>
<text x="46.50" y="9.20" textLength="24.20" lengthAdjust="spacingAndGlyphs">103.045</text>
<text x="72.90" y="9.20" textLength="24.20" lengthAdjust="spacingAndGlyphs">103.048</text>
<text x="99.30" y="9.20" textLength="24.20" lengthAdjust="spacingAndGlyphs">103.045</text>
<text x="125.70" y="9.20" textLength="24.20" lengthAdjust="spacingAndGlyphs">103.045</text>
<text x="3.80" y="401.40" textLength="22.50" lengthAdjust="spacingAndGlyphs">RSI(14)</text>
<text x="27.70" y="401.40" textLength="24.90" lengthAdjust="spacingAndGlyphs">49.1757</text>
<text x="3.80" y="482.80" textLength="45.10" lengthAdjust="spacingAndGlyphs">MACD(12,26,9)</text>
<text x="51.30" y="482.80" textLength="22.80" lengthAdjust="spacingAndGlyphs">-0.0222</text>
<text x="76.50" y="482.80" textLength="22.10" lengthAdjust="spacingAndGlyphs">-0.0440</text>
<path d="M3.1 5.1H8.2L5.65 7.9Z" fill="#e4e4ec"/>
</svg>
</body></html>
